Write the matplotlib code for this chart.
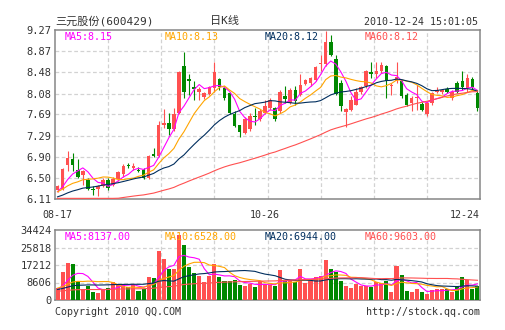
import numpy as np
import pandas as pd
import matplotlib
matplotlib.use("Agg")
import matplotlib.pyplot as plt

# daily k-line 2010-08-17 .. 2010-12-24
opens = [6.28, 6.29, 6.75, 6.86, 6.66, 6.55, 6.47, 6.30, 6.30, 6.35,
         6.46, 6.38, 6.49, 6.57, 6.75, 6.69, 6.66, 6.66, 6.50, 6.95,
         6.91, 7.49, 7.54, 7.41, 7.72, 8.60, 8.36, 8.20, 8.11, 8.02,
         8.08, 8.19, 8.35, 8.18, 8.09, 7.70, 7.49, 7.34, 7.41, 7.67,
         7.60, 7.72, 7.81, 7.81, 7.75, 8.04, 7.91, 8.15, 8.06, 8.26,
         8.28, 8.34, 8.64, 8.63, 9.05, 8.72, 8.28, 7.74, 7.78, 7.87,
         8.12, 8.22, 8.48, 8.44, 8.50, 8.59, 8.22, 8.31, 8.31, 8.06,
         7.91, 7.99, 7.89, 7.69, 7.91, 8.12, 8.12, 8.17, 8.00, 8.28,
         8.31, 8.19, 8.36, 8.09]
highs = [6.38, 6.69, 7.01, 6.97, 6.85, 6.66, 6.50, 6.35, 6.38, 6.50,
         6.50, 6.52, 6.64, 6.76, 6.78, 6.79, 6.70, 6.69, 6.94, 7.06,
         7.56, 7.80, 7.72, 7.82, 8.51, 8.86, 8.44, 8.31, 8.20, 8.12,
         8.22, 8.68, 8.38, 8.22, 8.12, 7.75, 7.50, 7.64, 7.72, 7.82,
         7.80, 7.97, 8.00, 7.83, 8.15, 8.22, 8.18, 8.22, 8.44, 8.36,
         8.40, 8.59, 8.81, 9.26, 9.18, 8.81, 8.34, 7.81, 8.03, 8.18,
         8.23, 8.53, 8.68, 8.68, 8.68, 8.62, 8.28, 8.68, 8.34, 8.09,
         8.03, 8.25, 7.92, 7.94, 8.12, 8.20, 8.17, 8.20, 8.14, 8.31,
         8.50, 8.44, 8.40, 8.15]
lows = [6.25, 6.27, 6.63, 6.63, 6.50, 6.38, 6.27, 6.19, 6.16, 6.33,
        6.28, 6.35, 6.45, 6.53, 6.69, 6.66, 6.62, 6.49, 6.49, 6.89,
        6.90, 7.44, 7.31, 7.39, 7.70, 8.00, 8.06, 7.97, 7.97, 7.98,
        8.05, 8.12, 8.15, 7.97, 7.70, 7.45, 7.26, 7.33, 7.39, 7.50,
        7.56, 7.70, 7.78, 7.57, 7.72, 7.91, 7.88, 7.87, 8.03, 8.24,
        8.22, 8.31, 8.50, 8.59, 8.78, 8.06, 7.75, 7.45, 7.75, 7.86,
        8.08, 8.19, 8.37, 8.37, 8.47, 7.99, 8.06, 8.28, 8.00, 7.84,
        7.75, 7.78, 7.76, 7.67, 7.87, 8.09, 8.08, 8.10, 7.97, 8.09,
        8.15, 8.12, 8.15, 7.75]
closes = [6.35, 6.67, 6.88, 6.75, 6.53, 6.63, 6.30, 6.28, 6.36, 6.47,
          6.32, 6.49, 6.61, 6.72, 6.72, 6.73, 6.64, 6.50, 6.91, 6.91,
          7.50, 7.54, 7.41, 7.70, 8.48, 8.11, 8.32, 8.17, 8.17, 8.10,
          8.20, 8.49, 8.20, 8.00, 7.72, 7.47, 7.36, 7.61, 7.67, 7.64,
          7.76, 7.84, 7.97, 7.60, 8.12, 7.98, 8.15, 7.94, 8.24, 8.34,
          8.37, 8.57, 8.66, 9.05, 8.80, 8.08, 7.84, 7.79, 7.97, 8.11,
          8.20, 8.50, 8.45, 8.51, 8.62, 8.31, 8.25, 8.40, 8.03, 7.87,
          8.00, 8.01, 7.78, 7.91, 8.09, 8.15, 8.14, 8.12, 8.11, 8.12,
          8.20, 8.37, 8.20, 7.81]
volumes = [5900, 14000, 18300, 17800, 9500, 5400, 7000, 4100, 3400, 5400,
           5900, 8700, 7900, 7900, 6200, 7400, 4600, 5400, 11500, 10700,
           23900, 20300, 15000, 15300, 32200, 26900, 16200, 13300, 11700, 9000,
           12000, 17800, 11200, 9200, 9200, 9900, 7500, 7100, 7900, 6200,
           9200, 7900, 7500, 6700, 14800, 9500, 9900, 8700, 15300, 8500,
           9200, 11200, 11700, 19800, 15300, 13700, 9500, 7000, 5900, 7900,
           6700, 7000, 6600, 8700, 8200, 9500, 4100, 16500, 12500, 4600,
           4100, 5400, 4100, 2900, 5100, 5400, 5400, 5400, 3700, 6200,
           11500, 9900, 5400, 6700]

# sessions before 08-17 (not shown), estimated from where the MA lines start
pre_closes = [5.95, 5.93, 5.90, 5.88, 5.91, 5.94, 5.97, 5.96, 5.92, 5.89,
              5.86, 5.88, 5.90, 5.93, 5.95, 5.92, 5.90, 5.87, 5.89, 5.92,
              5.94, 5.96, 5.93, 5.91, 5.90, 5.92, 5.95, 5.97, 5.94, 5.92,
              5.90, 5.91, 5.93, 5.96, 5.98, 5.97, 5.95, 5.96, 5.99, 6.01,
              6.02, 6.04, 6.06, 6.03, 6.05, 6.08, 6.06, 6.04, 6.07, 6.10,
              6.18, 6.26, 6.28, 6.25, 6.24, 6.22, 6.20, 6.23, 6.24]
pre_volumes = [3600, 4100, 3800, 3500, 4200, 3900, 3700, 4000, 4300, 3800,
               3600, 3900, 4100, 3700, 3500, 3800, 4000, 4200, 3900, 3600,
               3800, 4100, 4400, 3900, 3700, 3600, 3800, 4000, 4200, 4100,
               3900, 3700, 3800, 4000, 3900, 4100, 4300, 4000, 3800, 4200,
               4300, 4700, 4400, 4600, 4200, 4800, 4500, 4300, 4600, 4600,
               6200, 7100, 6800, 6300, 6100, 5200, 4800, 5100, 4900]

date_labels = ["08-17", "10-26", "12-24"]
date_pos = [0, 41, 83]

price_ticks = [6.11, 6.50, 6.90, 7.29, 7.69, 8.08, 8.48, 8.87, 9.27]
vol_ticks = [0, 8606, 17212, 25818, 34424]

ma_windows = [5, 10, 20, 60]
ma_colors = ["#FF00FF", "#FFA500", "#002E5E", "#FF5050"]
price_ma_text = ["8.15", "8.13", "8.12", "8.12"]
vol_ma_text = ["8137.00", "6528.00", "6944.00", "9603.00"]

UP = "#FF5050"
DOWN = "#008800"
GRID = "#D2D2D2"
FRAME = "#868686"
TXT = "#333333"
MONO = ["DejaVu Sans Mono", "Noto Sans CJK SC"]
FS = 7.2

df = pd.DataFrame({"open": opens, "high": highs, "low": lows,
                   "close": closes, "vol": volumes})
n = len(df)
x = np.arange(n)
off = len(pre_closes)
all_close = pd.Series(pre_closes + closes)
all_vol = pd.Series(pre_volumes + volumes)

W, H = 505, 330
fig = plt.figure(figsize=(W / 100, H / 100), dpi=100)
ax = fig.add_axes([55 / W, 1 - 199 / H, 425 / W, 169 / H])
axv = fig.add_axes([55 / W, 1 - 300 / H, 425 / W, 70 / H])


def style(a, ticks, labels):
    a.set_xlim(-0.5, n - 0.5)
    a.set_ylim(ticks[0], ticks[-1])
    for s in a.spines.values():
        s.set_color(FRAME)
        s.set_linewidth(1.1)
    a.set_yticks(ticks)
    a.set_yticklabels(labels, family=MONO, fontsize=7.5, color=TXT)
    a.tick_params(axis="y", length=0, pad=2.5)
    a.tick_params(axis="x", length=0)
    for gy in ticks[1:-1]:
        a.axhline(gy, color=GRID, linestyle=(0, (3, 2)), linewidth=0.9, zorder=0)
    for gx in np.linspace(-0.5, n - 0.5, 9)[1:-1]:
        a.axvline(gx, color=GRID, linestyle=(0, (3, 2)), linewidth=0.9, zorder=0)


style(ax, price_ticks, ["%.2f" % v for v in price_ticks])
style(axv, vol_ticks, [str(v) for v in vol_ticks])
axv.set_xticks([])

# candles
up = df.close >= df.open
col = np.where(up, UP, DOWN)
ax.vlines(x, df.low, df.high, colors=col, linewidth=0.8, zorder=3)
body_lo = np.minimum(df.open, df.close)
body_h = np.maximum((df.close - df.open).abs(), 0.012)
ax.bar(x, body_h, bottom=body_lo, width=0.7, color=col, linewidth=0, zorder=4)

# price moving averages (drawn along the floor when below the range, like the original)
floor = price_ticks[0] + 0.012
for w, c in zip(ma_windows, ma_colors):
    ma = all_close.rolling(w).mean().iloc[off:].values
    ax.plot(x, np.maximum(ma, floor), color=c, linewidth=0.8, zorder=5)

# volume
axv.bar(x, df.vol, width=0.8, color=col, linewidth=0, zorder=3)
for w, c in zip(ma_windows, ma_colors):
    vma = all_vol.rolling(w).mean().iloc[off:].values
    axv.plot(x, vma, color=c, linewidth=0.8, zorder=4)

# date labels under the price panel
ax.set_xticks([])
tr = ax.get_xaxis_transform()
for i, (p, lab) in enumerate(zip(date_pos, date_labels)):
    if i == len(date_pos) - 1:
        ax.text(n - 0.5, -0.097, lab, transform=tr, ha="right", va="center",
                family=MONO, fontsize=FS, color=TXT)
    else:
        ax.text(p, -0.097, lab, transform=tr, ha="center", va="center",
                family=MONO, fontsize=FS, color=TXT)

# MA captions
for i, (w, c) in enumerate(zip(ma_windows, ma_colors)):
    fig.text((65 + 100 * i) / W, 1 - 36.5 / H, "MA%d:%s" % (w, price_ma_text[i]),
             color=c, family=MONO, fontsize=FS, va="center")
    fig.text((65 + 100 * i) / W, 1 - 236.5 / H, "MA%d:%s" % (w, vol_ma_text[i]),
             color=c, family=MONO, fontsize=FS, va="center")

# header / footer
fig.text(55 / W, 1 - 21 / H, "三元股份(600429)", family=MONO, fontsize=8,
         color=TXT, va="center")
fig.text(225 / W, 1 - 21 / H, "日K线", family=MONO, fontsize=8,
         color=TXT, va="center", ha="center")
fig.text(478 / W, 1 - 22 / H, "2010-12-24 15:01:05", family=MONO, fontsize=FS,
         color=TXT, va="center", ha="right")
fig.text(55 / W, 1 - 312 / H, "Copyright 2010 QQ.COM", family=MONO, fontsize=FS,
         color=TXT, va="center")
fig.text(480 / W, 1 - 312 / H, "http://stock.qq.com", family=MONO, fontsize=FS,
         color=TXT, va="center", ha="right")

fig.savefig("out.png", dpi=100, facecolor="white")
